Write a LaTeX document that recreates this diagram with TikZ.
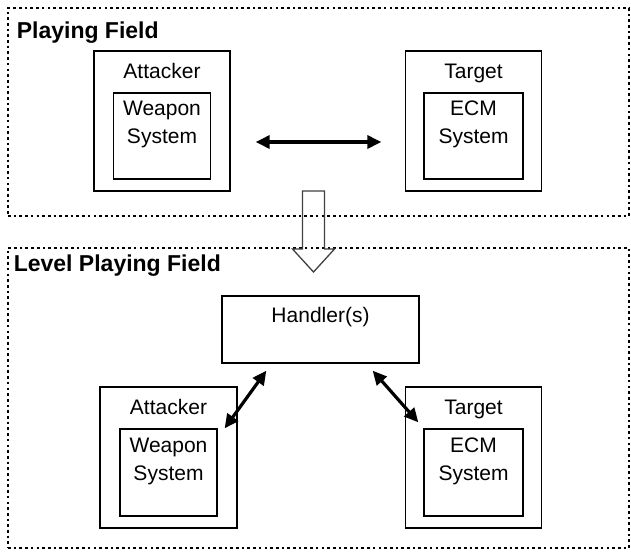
\documentclass[tikz,border=0pt]{standalone}
\usepackage{fontspec}
\setmainfont{Liberation Sans}
\usetikzlibrary{arrows.meta}

\begin{document}
\begin{tikzpicture}[x=1pt,y=-1pt,
    field/.style={draw,line width=2.8pt,dash pattern=on 2.6pt off 3.1pt,inner sep=0pt},
    outerbox/.style={draw,line width=1.3pt,minimum width=136pt,minimum height=140pt,inner sep=0pt},
    innerbox/.style={draw,line width=1.3pt,minimum width=97pt,minimum height=86pt,inner sep=0pt},
    title/.style={font=\fontsize{23}{28}\selectfont\bfseries,inner sep=0pt,anchor=base west},
    txt/.style={font=\fontsize{21}{28}\selectfont,inner sep=0pt,align=center},
    link/.style={line width=3.2pt,{Triangle[length=14pt,width=13pt]}-{Triangle[length=14pt,width=13pt]}}]
      \useasboundingbox (0,0) rectangle (631,555);
      % the two fields
      \node[field,minimum width=621pt,minimum height=208pt] (pf) at (318.5,112) {};
      \node[field,minimum width=621pt,minimum height=300pt] (lpf) at (318.5,398) {};
      \node[title] at ([xshift=10pt,yshift=-32pt]pf.north west) {Playing Field};
      \node[title] at ([xshift=7pt,yshift=-25pt]lpf.north west) {Level Playing Field};
      % playing field
      \node[outerbox] (att1) at (162,121) {};
      \node[innerbox] (wpn1) at (162,136) {};
      \node[outerbox] (tgt1) at (473.5,121) {};
      \node[innerbox,minimum width=99pt] (ecm1) at (473.5,136) {};
      \node[txt,anchor=base] at ([yshift=-28pt]att1.north) {Attacker};
      \node[txt,anchor=north] at ([yshift=-8.5pt]wpn1.north) {Weapon\\System};
      \node[txt,anchor=base] at ([yshift=-28pt]tgt1.north) {Target};
      \node[txt,anchor=north] at ([yshift=-8.5pt]ecm1.north) {ECM\\System};
      \draw[link,shorten <=44.5pt,shorten >=42pt] ([yshift=-6pt]wpn1.east) -- ([yshift=-6pt]ecm1.west);
      \draw[line width=1.3pt,black!75] (302.5,191) -- (302.5,249) -- (292.5,249) -- (313.5,272)
        -- (334.5,249) -- (324.5,249) -- (324.5,191) -- cycle;
      % level playing field
      \node[draw,line width=1.3pt,minimum width=197pt,minimum height=67pt,inner sep=0pt] (hdl) at (320.5,329.5) {};
      \node[txt,anchor=base] at ([yshift=-27pt]hdl.north) {Handler(s)};
      \node[outerbox,minimum width=137pt,minimum height=141pt] (att2) at (168.5,457.5) {};
      \node[innerbox,minimum height=87pt] (wpn2) at (168.5,472.5) {};
      \node[outerbox,minimum height=141pt] (tgt2) at (473.5,457.5) {};
      \node[innerbox,minimum width=99pt,minimum height=87pt] (ecm2) at (473.5,472.5) {};
      \node[txt,anchor=base] at ([yshift=-28pt]att2.north) {Attacker};
      \node[txt,anchor=north] at ([yshift=-9pt]wpn2.north) {Weapon\\System};
      \node[txt,anchor=base] at ([yshift=-28pt]tgt2.north) {Target};
      \node[txt,anchor=north] at ([yshift=-9pt]ecm2.north) {ECM\\System};
      \draw[link] ([xshift=45pt,yshift=-7pt]hdl.south west) -- ([xshift=7pt]wpn2.north east);
      \draw[link] ([xshift=-47pt,yshift=-7pt]hdl.south east) -- ([xshift=-5pt,yshift=6pt]ecm2.north west);
\end{tikzpicture}
\end{document}
